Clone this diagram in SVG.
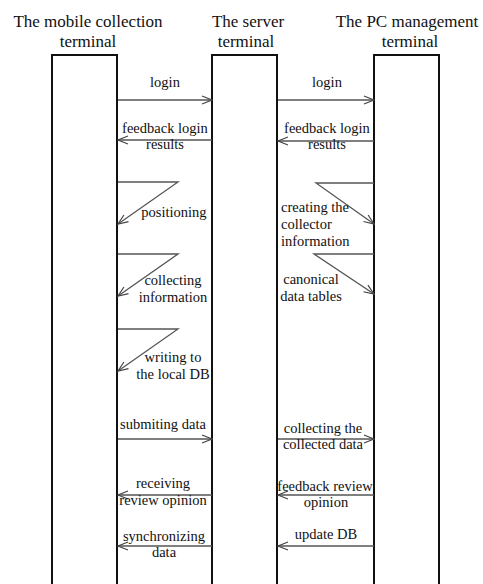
<svg xmlns="http://www.w3.org/2000/svg" width="483" height="584" viewBox="0 0 483 584">
<style>
.hdr{font-family:"Liberation Serif","Times New Roman",serif;font-size:17px;fill:#111;text-anchor:middle}
.lbl{font-family:"Liberation Serif","Times New Roman",serif;font-size:14.5px;fill:#111;text-anchor:middle}
.ll{text-anchor:start}
.bar{fill:none;stroke:#111;stroke-width:2}
.msg{fill:none;stroke:#555;stroke-width:1.3;marker-end:url(#ah)}
.seg{fill:none;stroke:#555;stroke-width:1.3}
</style>
<defs>
<marker id="ah" markerWidth="12" markerHeight="10" refX="11" refY="5" orient="auto" markerUnits="userSpaceOnUse" viewBox="0 0 12 10">
<path d="M1,1 L11,5 L1,9" fill="none" stroke="#444" stroke-width="1.2"/>
</marker>
</defs>
<rect width="483" height="584" fill="#fff"/>
<g id="mobile">
<text class="hdr" x="88" y="27">The mobile collection</text>
<text class="hdr" x="88" y="47">terminal</text>
<path class="bar" d="M52,590 V55 H117 V590"/>
</g>
<g id="server">
<text class="hdr" x="248" y="27">The server</text>
<text class="hdr" x="246" y="47">terminal</text>
<path class="bar" d="M212,590 V55 H277 V590"/>
</g>
<g id="pc">
<text class="hdr" x="407" y="27">The PC management</text>
<text class="hdr" x="410" y="47">terminal</text>
<path class="bar" d="M374,590 V55 H439 V590"/>
</g>
<g id="connectors">
<path class="msg" d="M118,100 H212"/>
<path class="msg" d="M212,140 H118"/>
<path class="msg" d="M118,182 H178 L118,224"/>
<path class="msg" d="M118,254 H178 L118,296"/>
<path class="msg" d="M118,329 H178 L118,371"/>
<path class="msg" d="M118,439 H212"/>
<path class="msg" d="M212,495 H118"/>
<path class="msg" d="M212,546 H118"/>
<path class="msg" d="M278,100 H374"/>
<path class="msg" d="M374,141 H278"/>
<path class="msg" d="M374,183 H316 L374,224"/>
<path class="msg" d="M374,254 H314 L374,294"/>
<path class="msg" d="M278,439 H374"/>
<path class="msg" d="M374,495 H278"/>
<path class="msg" d="M374,546 H278"/>
</g>
<g id="labels">
<text class="lbl" x="165" y="87">login</text>
<text class="lbl" x="165" y="133">feedback login</text>
<text class="lbl" x="165" y="149">results</text>
<text class="lbl" x="174" y="217">positioning</text>
<text class="lbl" x="173" y="285">collecting</text>
<text class="lbl" x="173" y="302">information</text>
<text class="lbl" x="173" y="362">writing to</text>
<text class="lbl" x="173" y="379">the local DB</text>
<text class="lbl" x="163" y="429">submiting data</text>
<text class="lbl" x="163" y="488">receiving</text>
<text class="lbl" x="163" y="505">review opinion</text>
<text class="lbl" x="164" y="541">synchronizing</text>
<text class="lbl" x="164" y="557">data</text>
<text class="lbl" x="327" y="87">login</text>
<text class="lbl" x="327" y="133">feedback login</text>
<text class="lbl" x="327" y="149">results</text>
<text class="lbl ll" x="281" y="212">creating the</text>
<text class="lbl ll" x="281" y="229">collector</text>
<text class="lbl ll" x="281" y="246">information</text>
<text class="lbl" x="311" y="284">canonical</text>
<text class="lbl" x="311" y="301">data tables</text>
<text class="lbl" x="323" y="433">collecting the</text>
<text class="lbl" x="323" y="449">collected data</text>
<text class="lbl" x="325" y="491">feedback review</text>
<text class="lbl" x="326" y="507">opinion</text>
<text class="lbl" x="326" y="539">update DB</text>
</g>
</svg>
